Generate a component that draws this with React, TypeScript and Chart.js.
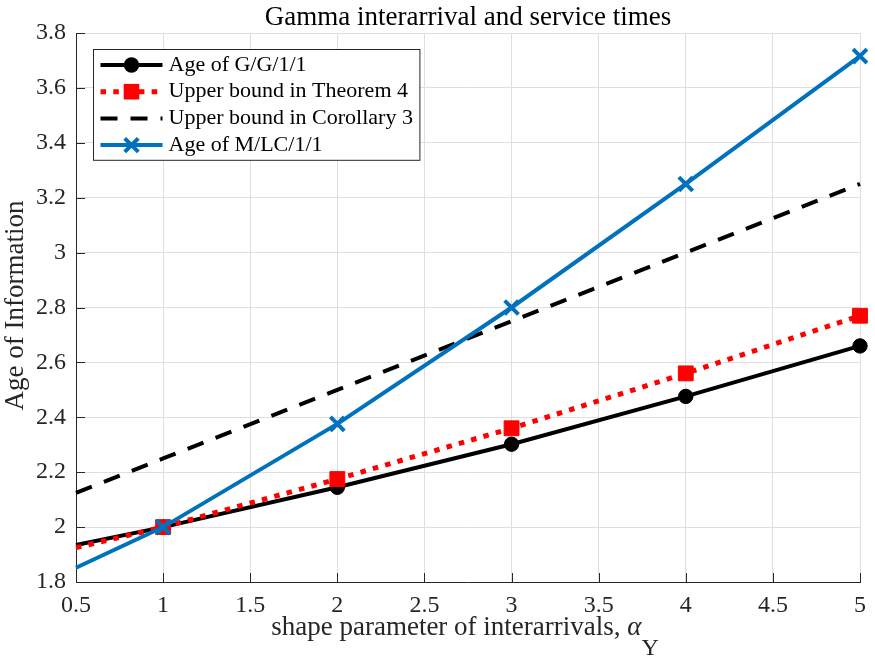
import React, { useEffect, useRef } from "react";
import { Chart, registerables } from "chart.js";

Chart.register(...registerables);

// Shape parameter of the gamma interarrival distribution
const alphaY = [0.5, 1, 2, 3, 4, 5];

// Age of information for each model / bound
const ageGG = [1.935, 2.0, 2.145, 2.302, 2.476, 2.66];
const boundTheorem4 = [1.925, 2.0, 2.175, 2.36, 2.56, 2.77];
const boundCorollary3 = [2.125, 2.25, 2.5, 2.75, 3.0, 3.25];
const ageMLC = [1.852, 2.0, 2.376, 2.8, 3.25, 3.716];

const seriesLabels = [
  "Age of G/G/1/1",
  "Upper bound in Theorem 4",
  "Upper bound in Corollary 3",
  "Age of M/LC/1/1",
];

const xTickValues = [0.5, 1, 1.5, 2, 2.5, 3, 3.5, 4, 4.5, 5];
const yTickValues = [1.8, 2, 2.2, 2.4, 2.6, 2.8, 3, 3.2, 3.4, 3.6, 3.8];

const titleText = "Gamma interarrival and service times";
const xLabelText = "shape parameter of interarrivals, ";
const xLabelSymbol = "α";
const xLabelSub = "Y";
const yLabelText = "Age of Information";

const SERIF = "'Liberation Serif', 'Times New Roman', serif";
const AXIS_COLOR = "#262626";
const GRID_COLOR = "#dfdfdf";
const BLUE = "#0072bd";

// Markers only on integer shape values
const markerRadius = (r: number) => (c: any) =>
  Number.isInteger(alphaY[c.dataIndex]) ? r : 0;

function toPoints(ys: number[]) {
  return alphaY.map((x, i) => ({ x, y: ys[i] }));
}

function drawMarker(
  ctx: CanvasRenderingContext2D,
  style: string,
  x: number,
  y: number,
  color: string
) {
  ctx.save();
  ctx.setLineDash([]);
  ctx.fillStyle = color;
  ctx.strokeStyle = color;
  if (style === "circle") {
    ctx.beginPath();
    ctx.arc(x, y, 7.7, 0, Math.PI * 2);
    ctx.fill();
  } else if (style === "rect") {
    ctx.fillRect(x - 7.8, y - 7.8, 15.6, 15.6);
  } else if (style === "crossRot") {
    const d = 6.8;
    ctx.lineWidth = 4;
    ctx.beginPath();
    ctx.moveTo(x - d, y - d);
    ctx.lineTo(x + d, y + d);
    ctx.moveTo(x - d, y + d);
    ctx.lineTo(x + d, y - d);
    ctx.stroke();
  }
  ctx.restore();
}

const decorations = {
  id: "decorations",
  beforeDatasetsDraw(chart: any) {
    const { ctx, chartArea, scales } = chart;
    const { left, bottom } = chartArea;
    ctx.save();
    ctx.strokeStyle = AXIS_COLOR;
    ctx.lineWidth = 1;
    ctx.beginPath();
    for (const v of xTickValues) {
      const px = Math.round(scales.x.getPixelForValue(v)) + 0.5;
      ctx.moveTo(px, bottom);
      ctx.lineTo(px, bottom - 9);
    }
    for (const v of yTickValues) {
      const py = Math.round(scales.y.getPixelForValue(v)) + 0.5;
      ctx.moveTo(left, py);
      ctx.lineTo(left + 9, py);
    }
    ctx.stroke();
    ctx.restore();
  },
  afterDraw(chart: any) {
    const { ctx, chartArea } = chart;
    const cx = (chartArea.left + chartArea.right) / 2;
    const cy = (chartArea.top + chartArea.bottom) / 2;
    ctx.save();

    // Title
    ctx.fillStyle = "#000";
    ctx.font = `27px ${SERIF}`;
    ctx.textAlign = "center";
    ctx.textBaseline = "alphabetic";
    ctx.fillText(titleText, cx, 25);

    // X axis label with subscripted symbol
    ctx.fillStyle = AXIS_COLOR;
    ctx.textAlign = "left";
    ctx.font = `27px ${SERIF}`;
    const w1 = ctx.measureText(xLabelText).width;
    ctx.font = `italic 27px ${SERIF}`;
    const w2 = ctx.measureText(xLabelSymbol).width;
    ctx.font = `24px ${SERIF}`;
    const w3 = ctx.measureText(xLabelSub).width;
    let lx = cx - 3 - (w1 + w2 + w3) / 2;
    const base = 635;
    ctx.font = `27px ${SERIF}`;
    ctx.fillText(xLabelText, lx, base);
    lx += w1;
    ctx.font = `italic 27px ${SERIF}`;
    ctx.fillText(xLabelSymbol, lx, base);
    lx += w2;
    ctx.font = `24px ${SERIF}`;
    ctx.fillText(xLabelSub, lx, base + 20);

    // Y axis label
    ctx.save();
    ctx.translate(16, cy - 2);
    ctx.rotate(-Math.PI / 2);
    ctx.font = `27px ${SERIF}`;
    ctx.textAlign = "center";
    ctx.textBaseline = "middle";
    ctx.fillText(yLabelText, 0, 0);
    ctx.restore();

    // Legend
    const datasets = chart.data.datasets;
    ctx.font = `22px ${SERIF}`;
    let maxW = 0;
    for (const ds of datasets) maxW = Math.max(maxW, ctx.measureText(ds.label).width);
    const bx = chartArea.left + 17.5;
    const by = chartArea.top + 16.5;
    const rowH = 26.7;
    const textX = bx + 75;
    const bw = textX - bx + maxW + 7;
    const bh = rowH * datasets.length + 4;
    ctx.fillStyle = "#fff";
    ctx.fillRect(bx, by, bw, bh);
    ctx.strokeStyle = AXIS_COLOR;
    ctx.lineWidth = 1;
    ctx.setLineDash([]);
    ctx.strokeRect(bx, by, bw, bh);

    datasets.forEach((ds: any, i: number) => {
      const ry = by + 15.5 + i * rowH;
      const x0 = bx + 7;
      const x1 = bx + 69;
      ctx.save();
      ctx.strokeStyle = ds.borderColor;
      ctx.lineWidth = ds.borderWidth;
      ctx.setLineDash(ds.borderDash || []);
      ctx.lineCap = "butt";
      ctx.beginPath();
      ctx.moveTo(x0, ry);
      ctx.lineTo(x1, ry);
      ctx.stroke();
      ctx.restore();
      if (ds.legendMarker) drawMarker(ctx, ds.legendMarker, (x0 + x1) / 2, ry, ds.borderColor);
      ctx.fillStyle = "#000";
      ctx.font = `22px ${SERIF}`;
      ctx.textAlign = "left";
      ctx.textBaseline = "middle";
      ctx.fillText(ds.label, textX, ry);
    });

    ctx.restore();
  },
};

export default function App() {
  const canvasRef = useRef<HTMLCanvasElement | null>(null);

  useEffect(() => {
    if (!canvasRef.current) return;
    const chart = new Chart(canvasRef.current, {
      type: "line",
      data: {
        datasets: [
          {
            label: seriesLabels[0],
            data: toPoints(ageGG),
            borderColor: "#000",
            backgroundColor: "#000",
            borderWidth: 4,
            pointStyle: "circle",
            pointRadius: markerRadius(7.2),
            pointBorderWidth: 1,
            pointHoverRadius: 0,
            clip: false,
            order: 3,
            legendMarker: "circle",
          } as any,
          {
            label: seriesLabels[1],
            data: toPoints(boundTheorem4),
            borderColor: "#ff0000",
            backgroundColor: "#ff0000",
            borderWidth: 5,
            borderDash: [5.5, 7.3],
            pointStyle: "rect",
            pointRadius: markerRadius(10.5),
            pointBorderWidth: 1,
            pointHoverRadius: 0,
            clip: false,
            order: 2,
            legendMarker: "rect",
          } as any,
          {
            label: seriesLabels[2],
            data: toPoints(boundCorollary3),
            borderColor: "#000",
            backgroundColor: "#000",
            borderWidth: 4,
            borderDash: [17, 13],
            pointRadius: 0,
            pointHoverRadius: 0,
            clip: false,
            order: 1,
          } as any,
          {
            label: seriesLabels[3],
            data: toPoints(ageMLC),
            borderColor: BLUE,
            backgroundColor: BLUE,
            borderWidth: 4,
            pointStyle: "crossRot",
            pointRadius: markerRadius(9.8),
            pointBorderWidth: 4,
            pointHoverRadius: 0,
            clip: false,
            order: 0,
            legendMarker: "crossRot",
          } as any,
        ],
      },
      options: {
        animation: false,
        responsive: true,
        maintainAspectRatio: false,
        devicePixelRatio: 1,
        events: [],
        layout: { padding: { left: 0, top: 33, right: 13, bottom: 0 } },
        plugins: {
          legend: { display: false },
          title: { display: false },
          tooltip: { enabled: false },
        },
        elements: { line: { tension: 0 } },
        scales: {
          x: {
            type: "linear",
            min: 0.5,
            max: 5,
            afterBuildTicks: (s: any) => {
              s.ticks = xTickValues.map((v) => ({ value: v }));
            },
            afterFit: (s: any) => {
              s.height = 75;
            },
            ticks: {
              autoSkip: false,
              maxRotation: 0,
              padding: 9,
              color: AXIS_COLOR,
              font: { family: SERIF, size: 24 },
              callback: (v: any) => String(v),
            },
            grid: { color: GRID_COLOR, lineWidth: 1, drawTicks: false },
            border: { display: true, color: AXIS_COLOR, width: 1 },
          },
          y: {
            type: "linear",
            min: 1.8,
            max: 3.8,
            afterBuildTicks: (s: any) => {
              s.ticks = yTickValues.map((v) => ({ value: v }));
            },
            afterFit: (s: any) => {
              s.width = 76;
            },
            ticks: {
              autoSkip: false,
              padding: 10,
              color: AXIS_COLOR,
              font: { family: SERIF, size: 24 },
              callback: (v: any) => String(v),
            },
            grid: { color: GRID_COLOR, lineWidth: 1, drawTicks: false },
            border: { display: true, color: AXIS_COLOR, width: 1 },
          },
        },
      },
      plugins: [decorations],
    });
    return () => chart.destroy();
  }, []);

  return (
    <div
      style={{
        position: "absolute",
        left: 0,
        top: 0,
        width: 875,
        height: 657,
        background: "#fff",
      }}
    >
      <canvas ref={canvasRef} />
    </div>
  );
}
